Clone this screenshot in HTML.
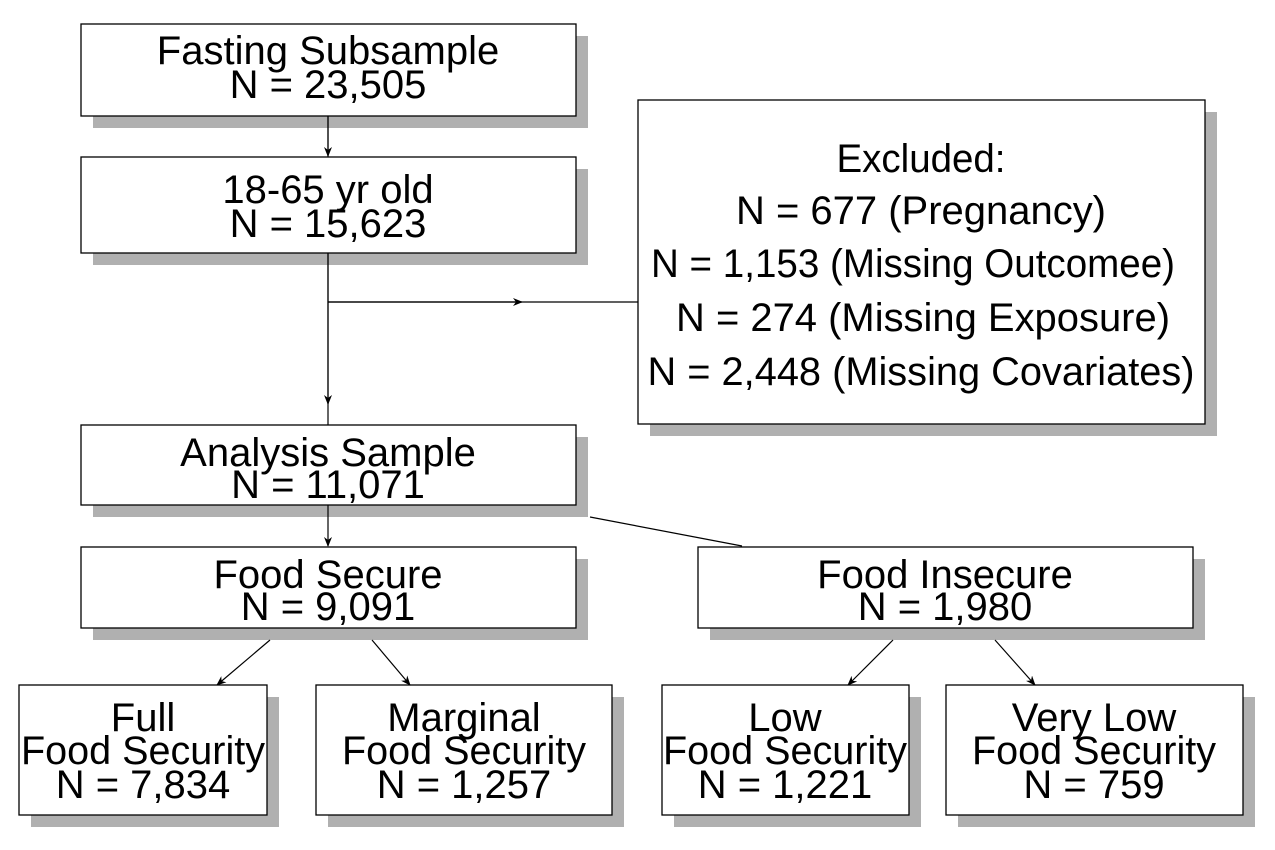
<!DOCTYPE html>
<html><head><style>body{margin:0;background:#fff}svg{display:block}</style></head><body>
<svg width="1275" height="850" xmlns="http://www.w3.org/2000/svg" font-family="Liberation Sans, sans-serif" font-size="40" text-anchor="middle">
<defs><marker id="a" markerWidth="10" markerHeight="8" refX="9" refY="4" orient="auto" markerUnits="userSpaceOnUse"><path d="M0,0 L10,4 L0,8 L3,4z" fill="#000"/></marker></defs>
<g fill="#b0b0b0">
<rect x="93" y="36" width="495" height="92"/>
<rect x="93" y="169" width="495" height="96"/>
<rect x="650" y="112" width="567" height="324"/>
<rect x="93" y="437" width="495" height="80"/>
<rect x="93" y="559" width="495" height="81"/>
<rect x="710" y="559" width="495" height="81"/>
<rect x="31" y="697" width="248" height="130"/>
<rect x="328" y="697" width="296" height="130"/>
<rect x="674" y="697" width="247" height="130"/>
<rect x="958" y="697" width="297" height="130"/>
</g>
<g fill="#fff" stroke="#000" stroke-width="1.3">
<rect x="81" y="24" width="495" height="92"/>
<rect x="81" y="157" width="495" height="96"/>
<rect x="638" y="100" width="567" height="324"/>
<rect x="81" y="425" width="495" height="80"/>
<rect x="81" y="547" width="495" height="81"/>
<rect x="698" y="547" width="495" height="81"/>
<rect x="19" y="685" width="248" height="130"/>
<rect x="316" y="685" width="296" height="130"/>
<rect x="662" y="685" width="247" height="130"/>
<rect x="946" y="685" width="297" height="130"/>
</g>
<g stroke="#000" stroke-width="1.2" fill="none">
<path d="M328,116 V157"/><path d="M328,116 V156" marker-end="url(#a)"/>
<path d="M328,253 V425"/><path d="M328,253 V404" marker-end="url(#a)"/>
<path d="M328,302 H638"/><path d="M328,302 H522" marker-end="url(#a)"/>
<path d="M328,505 V546" marker-end="url(#a)"/>
<path d="M590,517 L742,546"/>
<path d="M270,640 L217,685" marker-end="url(#a)"/>
<path d="M372,640 L410,685" marker-end="url(#a)"/>
<path d="M893,640 L848,685" marker-end="url(#a)"/>
<path d="M995,640 L1035,685" marker-end="url(#a)"/>
</g>
<g fill="#000">
<text x="328" y="64">Fasting Subsample</text>
<text x="328" y="98">N = 23,505</text>
<text x="328" y="203">18-65 yr old</text>
<text x="328" y="237">N = 15,623</text>
<text x="921" y="172" textLength="169" lengthAdjust="spacingAndGlyphs">Excluded:</text>
<text x="921" y="224" textLength="370" lengthAdjust="spacingAndGlyphs">N = 677 (Pregnancy)</text>
<text x="913" y="277" textLength="524" lengthAdjust="spacingAndGlyphs">N = 1,153 (Missing Outcomee)</text>
<text x="923" y="331" textLength="494" lengthAdjust="spacingAndGlyphs">N = 274 (Missing Exposure)</text>
<text x="921" y="385" textLength="547" lengthAdjust="spacingAndGlyphs">N = 2,448 (Missing Covariates)</text>
<text x="328" y="466">Analysis Sample</text>
<text x="328" y="498">N = 11,071</text>
<text x="328" y="588">Food Secure</text>
<text x="328" y="620">N = 9,091</text>
<text x="945" y="588">Food Insecure</text>
<text x="945" y="620">N = 1,980</text>
<text x="143" y="731">Full</text><text x="143" y="764" textLength="244" lengthAdjust="spacingAndGlyphs">Food Security</text><text x="143" y="798">N = 7,834</text>
<text x="464" y="731">Marginal</text><text x="464" y="764" textLength="244" lengthAdjust="spacingAndGlyphs">Food Security</text><text x="464" y="798">N = 1,257</text>
<text x="785" y="731">Low</text><text x="785" y="764" textLength="244" lengthAdjust="spacingAndGlyphs">Food Security</text><text x="785" y="798">N = 1,221</text>
<text x="1094" y="731">Very Low</text><text x="1094" y="764" textLength="244" lengthAdjust="spacingAndGlyphs">Food Security</text><text x="1094" y="798">N = 759</text>
</g>
</svg>
</body></html>
